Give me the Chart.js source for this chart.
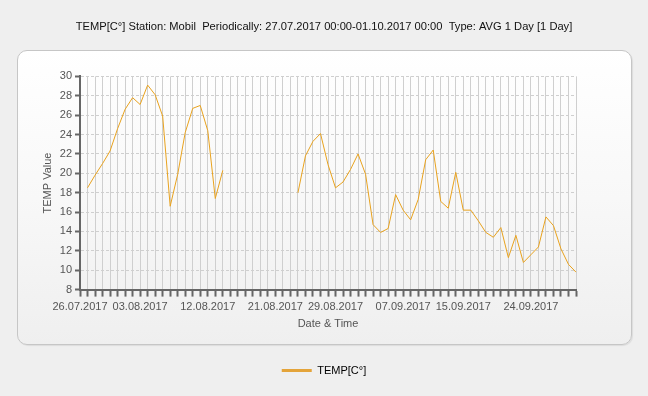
<!DOCTYPE html>
<html>
<head>
<meta charset="utf-8">
<script src="https://cdn.jsdelivr.net/npm/chart.js@4/dist/chart.umd.min.js"></script>
<style>
    html, body { margin: 0; padding: 0; }
    body {
        width: 648px;
        height: 396px;
        background: #efefef;
        position: relative;
        overflow: hidden;
    }
    #panel {
        position: absolute;
        left: 17px;
        top: 50px;
        width: 613px;
        height: 293px;
        border: 1px solid #c6c6c6;
        border-radius: 10px;
        background: linear-gradient(to bottom, #ffffff 0%, #f8f8f8 50%, #efefef 100%);
        box-shadow: 1px 1px 1px rgba(0,0,0,0.08);
    }
    #chart {
        position: absolute;
        left: 0;
        top: 0;
        width: 648px;
        height: 396px;
    }
</style>
</head>
<body>
<div id="panel"></div>
<div id="chart"><canvas id="c" width="648" height="396"></canvas></div>
<script>
// categories: one per day, 26.07.2017 .. 30.09.2017
const startDate = new Date(2017, 6, 26);
const dayCount = 67;
const dates = [];
for (let i = 0; i < dayCount; i++) {
    const d = new Date(startDate.getFullYear(), startDate.getMonth(), startDate.getDate() + i);
    const dd = String(d.getDate()).padStart(2, '0');
    const mm = String(d.getMonth() + 1).padStart(2, '0');
    dates.push(dd + '.' + mm + '.' + d.getFullYear());
}

// only these dates get a label under the axis
const shownDates = ['26.07.2017', '03.08.2017', '12.08.2017', '21.08.2017',
                    '29.08.2017', '07.09.2017', '15.09.2017', '24.09.2017'];

// daily average temperature, null = no data
const tempJul = [null, 18.5, 19.8, 21.0, 22.3, 24.6];                    // 26.07 - 31.07
const tempAug = [26.6, 27.8, 27.1, 29.1, 28.1, 25.9, 16.6, 19.9, 24.2,   // 01.08 - 09.08
                 26.7, 27.0, 24.4, 17.4, 20.3,                           // 10.08 - 14.08
                 null, null, null, null, null, null, null, null, null,   // 15.08 - 23.08
                 18.0, 21.8, 23.3, 24.1, 20.9, 18.5, 19.1, 20.4];        // 24.08 - 31.08
const tempSep = [22.0, 19.9, 14.7, 13.9, 14.3, 17.8, 16.2, 15.2, 17.3,   // 01.09 - 09.09
                 21.4, 22.4, 17.1, 16.4, 20.1, 16.2, 16.2, 15.1, 13.9,   // 10.09 - 18.09
                 13.4, 14.4, 11.3, 13.6, 10.8, 11.6, 12.4, 15.5, 14.6,   // 19.09 - 27.09
                 12.2, 10.6, 9.8];                                       // 28.09 - 30.09
const temps = tempJul.concat(tempAug, tempSep);

const titleText = 'TEMP[C°] Station: Mobil  Periodically: 27.07.2017 00:00-01.10.2017 00:00  Type: AVG 1 Day [1 Day]';
const fontFamily = '"Liberation Sans", Arial, sans-serif';
const lineColor = '#e8a21e';

const ctx = document.getElementById('c').getContext('2d');
const chart = new Chart(ctx, {
    type: 'line',
    data: {
        labels: dates,
        datasets: [{
            label: 'TEMP[C°]',
            data: temps,
            borderColor: lineColor,
            backgroundColor: '#e4a43a',
            borderWidth: 1,
            pointRadius: 0,
            tension: 0,
            spanGaps: false
        }]
    },
    options: {
        responsive: false,
        animation: false,
        devicePixelRatio: 1,
        layout: {
            padding: { left: 0, right: 0, top: 0, bottom: 10 }
        },
        plugins: {
            title: {
                display: true,
                text: titleText,
                color: '#111',
                font: { family: fontFamily, size: 11.15, weight: 'normal' },
                padding: { top: 20, bottom: 43 }
            },
            legend: {
                display: true,
                position: 'bottom',
                labels: {
                    boxWidth: 30,
                    boxHeight: 3,
                    color: '#111',
                    font: { family: fontFamily, size: 11 },
                    padding: 4,
                    generateLabels: (chart) => [{
                        text: 'TEMP[C°]',
                        fillStyle: '#e4a43a',
                        strokeStyle: '#e4a43a',
                        lineWidth: 0,
                        datasetIndex: 0
                    }]
                }
            },
            tooltip: { enabled: false }
        },
        scales: {
            x: {
                type: 'category',
                offset: false,
                border: { color: '#666', width: 2 },
                grid: {
                    color: '#cfcfcf',
                    lineWidth: 1,
                    tickColor: '#666',
                    tickWidth: 2,
                    tickLength: 7
                },
                ticks: {
                    autoSkip: false,
                    maxRotation: 0,
                    minRotation: 0,
                    padding: 4,
                    color: '#555',
                    font: { family: fontFamily, size: 11 },
                    callback: function (value) {
                        const lbl = this.getLabelForValue(value);
                        return shownDates.includes(lbl) ? lbl : '';
                    }
                },
                title: {
                    display: true,
                    text: 'Date & Time',
                    color: '#555',
                    font: { family: fontFamily, size: 11 },
                    padding: { top: 0, bottom: 30 }
                }
            },
            y: {
                min: 8,
                max: 30,
                afterFit: (s) => { s.width = 80; },
                border: { color: '#666', width: 2, dash: [3, 2] },
                grid: {
                    color: (c) => (c.tick && c.tick.value % 2 === 0) ? '#cfcfcf' : 'rgba(0,0,0,0)',
                    lineWidth: 1,
                    tickColor: '#666',
                    tickWidth: 2,
                    tickLength: 5
                },
                ticks: {
                    stepSize: 1,
                    padding: 3,
                    color: '#555',
                    font: { family: fontFamily, size: 11 },
                    callback: (v) => (v % 2 === 0 ? v : '')
                },
                title: {
                    display: true,
                    text: 'TEMP Value',
                    color: '#555',
                    font: { family: fontFamily, size: 11 },
                    padding: { top: 41, bottom: 0 }
                }
            },
            // empty axis on the right, only keeps the plot clear of the panel edge
            yRight: {
                position: 'right',
                afterFit: (s) => { s.width = 72; },
                grid: { display: false },
                border: { display: false },
                ticks: { display: false }
            }
        }
    }
});
</script>
</body>
</html>
